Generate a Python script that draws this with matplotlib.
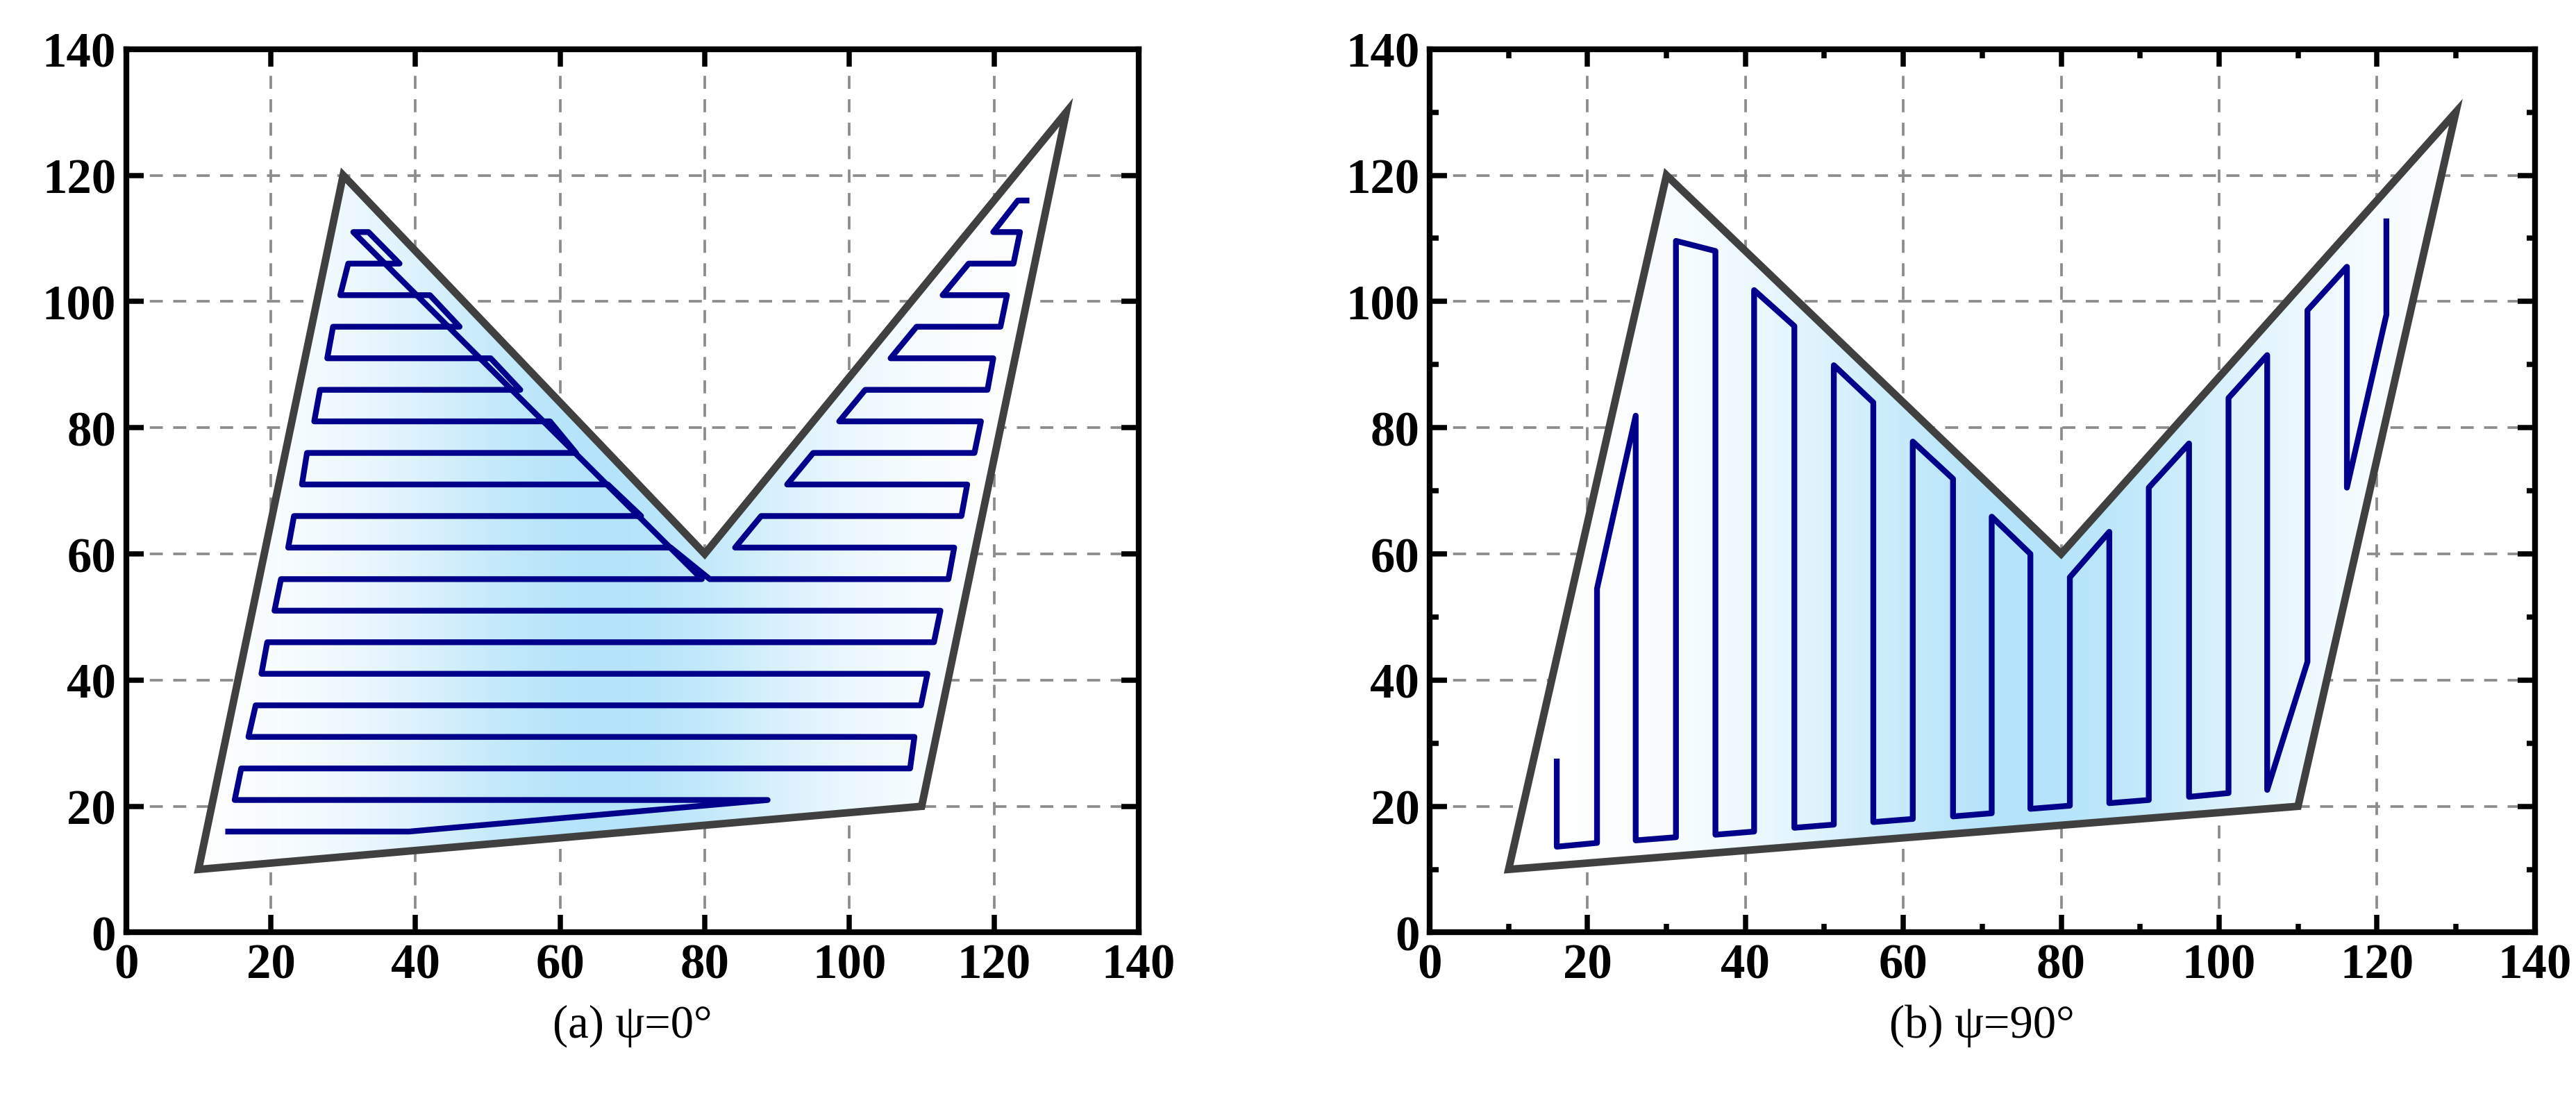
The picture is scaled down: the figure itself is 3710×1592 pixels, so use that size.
import matplotlib
matplotlib.use("Agg")
import matplotlib.pyplot as plt
import numpy as np
from matplotlib.patches import Polygon

plt.rcParams['font.family'] = ['Liberation Serif', 'DejaVu Serif']

# region boundary
region_x = [10, 30, 80, 130, 110]
region_y = [10, 120, 60, 130, 20]

# (a) psi = 0 deg path
path_a_x = [14.1, 39.1, 88.7, 15.0, 15.9, 108.4, 109.0, 16.9, 17.9, 109.9, 110.8, 18.7,
            19.5, 111.7, 112.6, 20.5, 21.4, 79.6,
            31.4, 33.5, 37.8, 30.7, 29.6, 42.0, 46.1, 28.6, 27.8, 50.4, 54.5, 26.8,
            26.0, 58.6, 62.2, 25.0, 24.3, 66.6, 71.2, 23.2, 22.4, 75.3,
            80.7, 113.7, 114.5, 84.2, 87.8, 115.5, 116.3, 91.4, 95.0, 117.3, 118.2, 98.6,
            102.2, 119.1, 119.9, 105.7, 109.3, 120.9, 121.8, 112.9, 116.5, 122.7, 123.6,
            119.9, 123.3, 124.5]
path_a_y = [16, 16, 21, 21, 26, 26, 31, 31, 36, 36, 41, 41,
            46, 46, 51, 51, 56, 56,
            111, 111, 106, 106, 101, 101, 96, 96, 91, 91, 86, 86,
            81, 81, 76, 76, 71, 71, 66, 66, 61, 61,
            56, 56, 61, 61, 66, 66, 71, 71, 76, 76, 81, 81,
            86, 86, 91, 91, 96, 96, 101, 101, 106, 106, 111,
            111, 116, 116]

# (b) psi = 90 deg path
path_b_x = [16.1, 16.1, 21.2, 21.2, 26.1, 26.1, 31.2, 31.2, 36.2, 36.2, 41.1, 41.1,
            46.2, 46.2, 51.2, 51.2, 56.2, 56.2, 61.2, 61.2, 66.3, 66.3, 71.2, 71.2,
            76.1, 76.1, 81.1, 81.1, 86.1, 86.1, 91.1, 91.1, 96.2, 96.2, 101.2, 101.2,
            106.1, 106.1, 111.2, 111.2, 116.2, 116.2, 121.2, 121.2]
path_b_y = [27.1, 13.6, 14.2, 54.5, 81.9, 14.6, 15.1, 109.6, 108.0, 15.5, 16.0, 101.8,
            96.1, 16.6, 17.1, 89.9, 84.0, 17.5, 18.0, 77.8, 71.9, 18.4, 18.9, 65.9,
            60.0, 19.6, 20.1, 56.3, 63.5, 20.5, 21.0, 70.5, 77.5, 21.5, 22.1, 84.7,
            91.5, 22.6, 42.9, 98.6, 105.5, 70.5, 97.9, 112.7]

captions = ["(a) ψ=0°", "(b) ψ=90°"]
ticks = [0, 20, 40, 60, 80, 100, 120, 140]

fig = plt.figure(figsize=(3710 / 300, 1593 / 300), dpi=300)
axes = [fig.add_axes([0.049, 0.156, 0.393, 0.799]),
        fig.add_axes([0.555, 0.156, 0.429, 0.799])]
paths = [(path_a_x, path_a_y), (path_b_x, path_b_y)]
gcenter = [66, 76]

gx = np.linspace(0, 140, 400)
cmap = matplotlib.colors.LinearSegmentedColormap.from_list("b", ["#ffffff", "#b5e4fa"])

for i, (ax, (px, py), cap) in enumerate(zip(axes, paths, captions)):
    ax.set_xlim(0, 140)
    ax.set_ylim(0, 140)
    ax.grid(True, ls=(0, (5, 4)), color="#8c8c8c", lw=0.9)
    ax.set_axisbelow(True)
    poly = Polygon(np.column_stack([region_x, region_y]), closed=True,
                   facecolor="none", edgecolor="#404040", lw=2.6, zorder=4,
                   joinstyle="miter")
    ax.add_patch(poly)
    grad = np.exp(-((gx - gcenter[i]) / 30) ** 2)
    im = ax.imshow(np.tile(grad, (2, 1)), extent=[0, 140, 0, 140], cmap=cmap,
                   aspect="auto", origin="lower", zorder=2, vmin=0, vmax=1)
    im.set_clip_path(poly)
    ax.plot(px, py, color="#00008b", lw=2.0, zorder=5)
    ax.set_xticks(ticks)
    ax.set_yticks(ticks)
    if i == 1:
        ax.set_xticks(np.arange(10, 140, 20), minor=True)
        ax.set_yticks(np.arange(10, 140, 20), minor=True)
    ax.tick_params(which="both", direction="in", top=True, right=True, width=1.8)
    ax.tick_params(which="major", length=6, labelsize=17)
    ax.tick_params(which="minor", length=3)
    for lab in ax.get_xticklabels() + ax.get_yticklabels():
        lab.set_fontweight("bold")
    for s in ax.spines.values():
        s.set_linewidth(2.0)
    ax.text(0.5, -0.105, cap, transform=ax.transAxes, ha="center", va="center", fontsize=16)

fig.savefig("out.png", dpi=300)
